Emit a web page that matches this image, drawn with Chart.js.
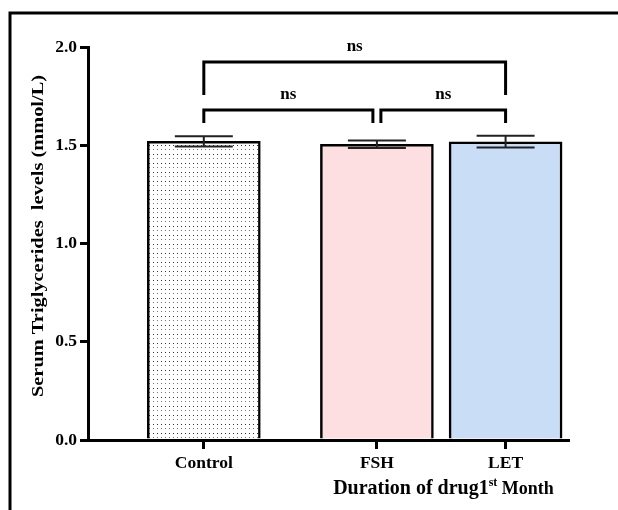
<!DOCTYPE html>
<html><head><meta charset="utf-8">
<script src="https://cdn.jsdelivr.net/npm/chart.js@4.4.0/dist/chart.umd.min.js"></script>
<style>html,body{margin:0;padding:0;background:#fff;}canvas{display:block;}</style>
</head><body>
<canvas id="c" width="618" height="510"></canvas>
<script>
// ---- data ----
const categories = ['Control', 'FSH', 'LET'];
const positions = [0.9, 2.245, 3.245];          // category positions on x axis (GraphPad gap layout)
const means = [1.52, 1.505, 1.518];
const sems = [0.026, 0.019, 0.03];
const yTicks = [0, 0.5, 1.0, 1.5, 2.0];
const comparisons = [[0, 1], [1, 2], [0, 2]];
const compLabels = ['ns', 'ns', 'ns'];
const compLevels = [1.679, 1.679, 1.924];
const compDrops = [0.066, 0.066, 0.168];
const yTitle = 'Serum Triglycerides  levels (mmol/L)';
const xTitleParts = ['Duration of drug1', 'st', ' Month'];

const FONT = "'Liberation Serif','Times New Roman',serif";
const canvas = document.getElementById('c');
const ctx = canvas.getContext('2d');

function dotPattern() {
  const t = document.createElement('canvas');
  t.width = 4; t.height = 9;
  const g = t.getContext('2d');
  g.fillStyle = '#fff'; g.fillRect(0, 0, 4, 9);
  g.fillStyle = '#333'; g.fillRect(1, 1, 1, 1);
  g.fillStyle = '#777'; g.fillRect(1, 5, 1, 1);
  return ctx.createPattern(t, 'repeat');
}

const framePlugin = {
  id: 'frame',
  beforeDraw(chart) {
    const c = chart.ctx;
    c.save();
    c.strokeStyle = '#000'; c.lineWidth = 3;
    c.beginPath();
    c.moveTo(10, 520); c.lineTo(10, 13); c.lineTo(630, 13);
    c.stroke();
    c.restore();
  }
};

const errorBarPlugin = {
  id: 'errbars',
  afterDatasetsDraw(chart) {
    const c = chart.ctx, xs = chart.scales.x, ys = chart.scales.y;
    c.save();
    c.strokeStyle = '#222'; c.lineWidth = 2;
    positions.forEach((p, i) => {
      const x = xs.getPixelForValue(p);
      const yt = ys.getPixelForValue(means[i] + sems[i]);
      const yb = ys.getPixelForValue(means[i] - sems[i]);
      const hw = 29;
      c.beginPath();
      c.moveTo(x, yt); c.lineTo(x, yb);
      c.moveTo(x - hw, yt); c.lineTo(x + hw, yt);
      c.moveTo(x - hw, yb); c.lineTo(x + hw, yb);
      c.stroke();
    });
    c.restore();
  }
};

const bracketPlugin = {
  id: 'brackets',
  afterDraw(chart) {
    const c = chart.ctx, xs = chart.scales.x, ys = chart.scales.y;
    c.save();
    c.strokeStyle = '#000'; c.lineWidth = 3; c.fillStyle = '#000';
    c.font = 'bold 17px ' + FONT;
    c.textAlign = 'center'; c.textBaseline = 'alphabetic';
    comparisons.forEach((pair, k) => {
      const [a, b] = pair;
      let x1 = xs.getPixelForValue(positions[a]);
      let x2 = xs.getPixelForValue(positions[b]);
      comparisons.forEach((o, j) => {
        if (j === k || compLevels[j] !== compLevels[k]) return;
        if (o.includes(a)) x1 += 4;
        if (o.includes(b)) x2 -= 4;
      });
      const y = ys.getPixelForValue(compLevels[k]);
      const yd = ys.getPixelForValue(compLevels[k] - compDrops[k]);
      c.beginPath();
      c.moveTo(x1, yd); c.lineTo(x1, y); c.lineTo(x2, y); c.lineTo(x2, yd);
      c.stroke();
      c.fillText(compLabels[k], (x1 + x2) / 2, y - 11);
    });
    // y axis title
    c.save();
    c.font = 'bold 17px ' + FONT;
    const w = c.measureText(yTitle).width;
    c.translate(39, 236);
    c.rotate(-Math.PI / 2);
    c.scale(322 / w, 1);
    c.textAlign = 'center'; c.textBaseline = 'middle';
    c.fillText(yTitle, 0, 0);
    c.restore();
    // x axis title with superscript
    const fonts = ['bold 20px ' + FONT, 'bold 12px ' + FONT, 'bold 18px ' + FONT];
    const rise = [0, -8, 0];
    c.textAlign = 'left';
    let widths = xTitleParts.map((t, i) => { c.font = fonts[i]; return c.measureText(t).width; });
    const total = widths.reduce((s, v) => s + v, 0);
    let x = 443.5 - total / 2;
    xTitleParts.forEach((t, i) => {
      c.font = fonts[i];
      c.fillText(t, x, 494 + rise[i]);
      x += widths[i];
    });
    c.restore();
  }
};

const barColors = [dotPattern(), '#FDDFE1', '#C9DDF6'];

new Chart(ctx, {
  type: 'bar',
  data: {
    datasets: [{
      data: categories.map((c, i) => ({ x: positions[i], y: means[i] })),
      backgroundColor: barColors,
      borderColor: '#000',
      borderWidth: 2.5,
      borderSkipped: 'start',
      barThickness: 113
    }]
  },
  options: {
    responsive: false,
    animation: false,
    events: [],
    layout: { padding: { left: 0, top: 47, right: 50, bottom: 0 } },
    plugins: { legend: { display: false }, tooltip: { enabled: false } },
    scales: {
      x: {
        type: 'linear', min: 0, max: 3.73, offset: false,
        afterBuildTicks: s => { s.ticks = positions.map(v => ({ value: v })); },
        ticks: {
          callback: (v, i) => categories[i],
          font: { family: FONT, size: 17.5, weight: 'bold' }, color: '#000',
          padding: 4, maxRotation: 0, autoSkip: false
        },
        grid: { offset: false, drawOnChartArea: false, drawTicks: true, tickLength: 9, lineWidth: 3, color: '#000' },
        border: { display: true, width: 3, color: '#000' },
        afterFit: s => { s.height = 70; }
      },
      y: {
        min: 0, max: 2,
        afterBuildTicks: s => { s.ticks = yTicks.map(v => ({ value: v })); },
        ticks: {
          callback: v => Number(v).toFixed(1),
          font: { family: FONT, size: 17.5, weight: 'bold' }, color: '#000', padding: 3
        },
        grid: { drawOnChartArea: false, drawTicks: true, tickLength: 8, lineWidth: 3, color: '#000' },
        border: { display: true, width: 3, color: '#000' },
        afterFit: s => { s.width = 88; }
      }
    }
  },
  plugins: [framePlugin, errorBarPlugin, bracketPlugin]
});
</script>
</body></html>
